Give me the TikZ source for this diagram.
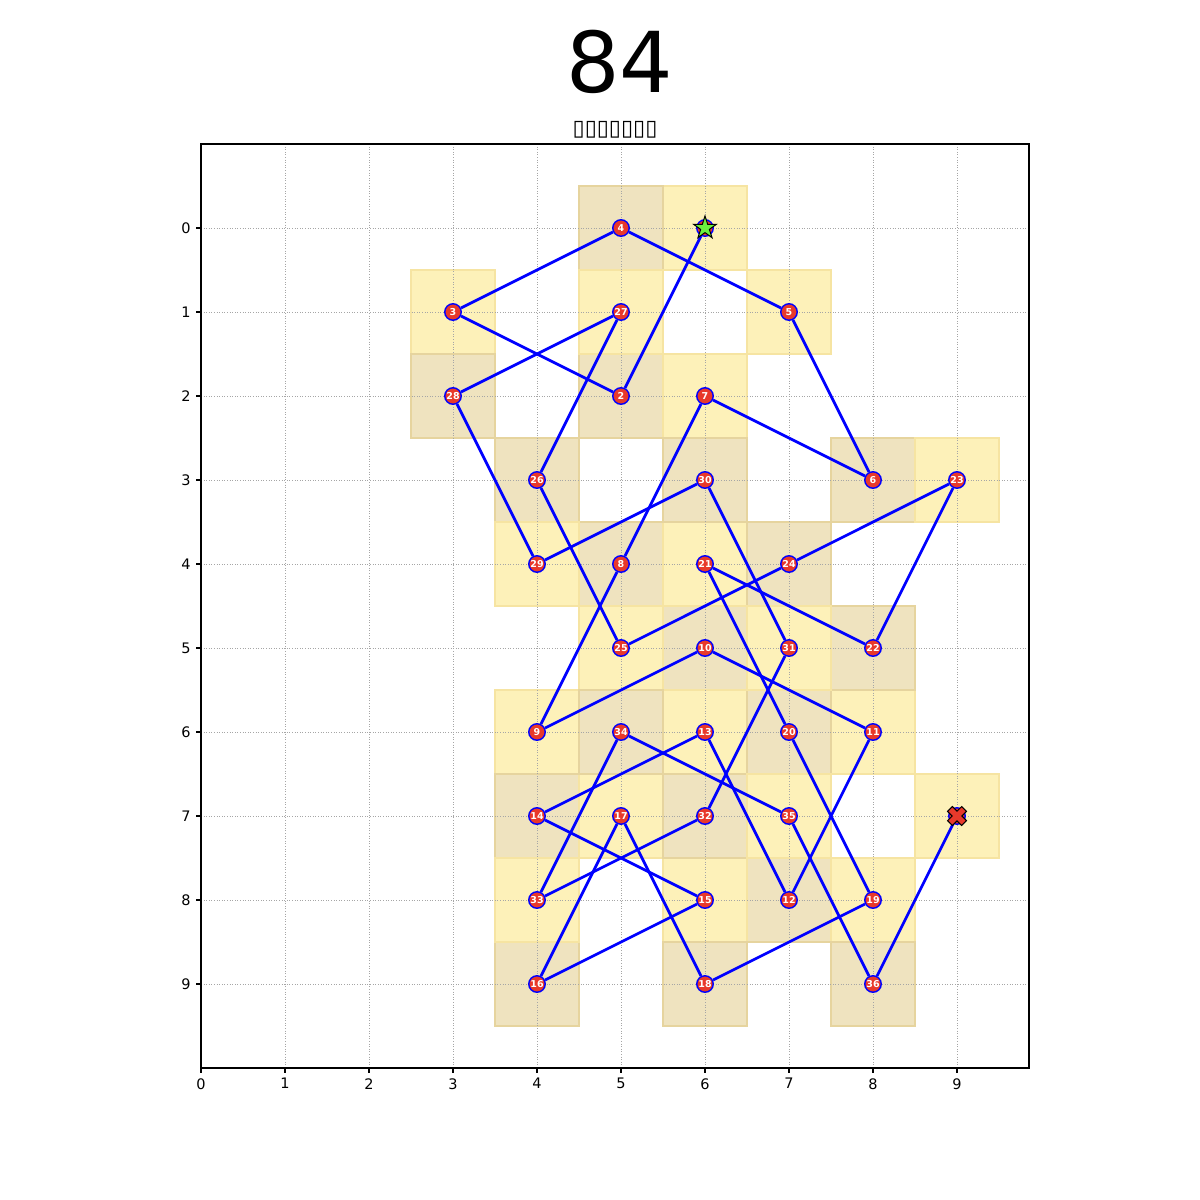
\documentclass[tikz,border=0pt]{standalone}
\usepackage{fontspec}
\setmainfont{DejaVu Sans}
\usetikzlibrary{shapes.geometric}
\pgfdeclarelayer{cells}
\pgfdeclarelayer{links}
\pgfsetlayers{cells,links,main}
\definecolor{cellgold}{HTML}{FDF1B9}
\definecolor{cellgoldedge}{HTML}{F6E4A2}
\definecolor{celltan}{HTML}{EFE3BF}
\definecolor{celltanedge}{HTML}{E6D49E}
\definecolor{tourblue}{HTML}{0000FF}
\definecolor{markred}{HTML}{E8392B}
\definecolor{markgreen}{HTML}{6CF03F}
\tikzset{
	goldcell/.style={fill=cellgold,draw=cellgoldedge,line width=1.2pt},
	tancell/.style={fill=celltan,draw=celltanedge,line width=1.2pt},
	gridline/.style={black!35,line width=0.7pt,dash pattern=on 1pt off 1.6pt},
	axisline/.style={black,line width=1.1pt},
	ticklabel/.style={inner sep=0pt,font=\fontsize{14.5}{16}\selectfont},
	link/.style={tourblue,line width=2.7pt},
	tour/.style={circle,fill=markred,draw=tourblue,line width=1.4pt,minimum size=16.5pt,inner sep=0pt,text=white,font=\fontsize{9.5}{10}\selectfont\bfseries},
	startmark/.style={star,star points=5,star point ratio=2.618,minimum size=24pt,inner sep=0pt,fill=markgreen,draw=black,line width=1pt},
	endmark/.style={fill=markred,draw=black,line width=1pt,line join=miter}
}

\begin{document}
\begin{tikzpicture}[x=84pt,y=-84pt]
	\useasboundingbox (-2.392857,-2.714286) rectangle (11.892857,11.571429);
	
	% title and subtitle
	\node (title) at (4.988,-1.976) {\fontsize{84}{90}\selectfont 84};
	\node (subtitle) at (4.929,-1.167) {\fontsize{22}{24}\selectfont ▯▯▯▯▯▯▯};
	
	% tour squares
	\begin{pgfonlayer}{cells}
		\foreach \x/\y in {6/0,5/2,3/1,5/0,7/1,8/3,6/2,5/4,4/6,6/5,8/6,7/8,6/6,4/7,6/8,4/9,5/7,6/9,8/8,7/6,6/4,8/5,9/3,7/4,5/5,4/3,5/1,3/2,4/4,6/3,7/5,6/7,4/8,5/6,7/7,8/9,9/7} {
			\pgfmathtruncatemacro\odd{mod(\x+\y,2)}
			\ifnum\odd=1
				\draw[tancell] (\x-0.5,\y-0.5) rectangle (\x+0.5,\y+0.5);
			\else
				\draw[goldcell] (\x-0.5,\y-0.5) rectangle (\x+0.5,\y+0.5);
			\fi
		}
		\foreach \k in {0,...,9} {
			\draw[gridline] (\k,-1) -- (\k,10);
			\draw[gridline] (0,\k) -- (9.857,\k);
		}
	\end{pgfonlayer}
	
	% axes
	\draw[axisline] (0,-1) rectangle (9.857,10);
	\foreach \k in {0,...,9} {
		\draw[axisline] (\k,10) -- ++(0,0.058) node[ticklabel,anchor=north,yshift=-4.9pt] {\k};
		\draw[axisline] (0,\k) -- ++(-0.058,0) node[ticklabel,anchor=east,xshift=-4.9pt] {\k};
	}
	
	% knight's tour
	\node[tour] (p1) at (6,0) {};
	\foreach \n/\x/\y in {2/5/2,3/3/1,4/5/0,5/7/1,6/8/3,7/6/2,8/5/4,9/4/6,10/6/5,11/8/6,12/7/8,13/6/6,14/4/7,15/6/8,16/4/9,17/5/7,18/6/9,19/8/8,20/7/6,21/6/4,22/8/5,23/9/3,24/7/4,25/5/5,26/4/3,27/5/1,28/3/2,29/4/4,30/6/3,31/7/5,32/6/7,33/4/8,34/5/6,35/7/7,36/8/9}
		\node[tour] (p\n) at (\x,\y) {\n};
	\node[tour] (p37) at (9,7) {};
	
	\begin{pgfonlayer}{links}
		\foreach \n [evaluate=\n as \m using int(\n+1)] in {1,...,36}
			\draw[link] (p\n) -- (p\m);
	\end{pgfonlayer}
	
	\node[startmark] (start) at (p1) {};
	\draw[endmark,shift={(p37)},rotate=45] (-10pt,-3.4pt) -- (-3.4pt,-3.4pt) -- (-3.4pt,-10pt) -- (3.4pt,-10pt) -- (3.4pt,-3.4pt) -- (10pt,-3.4pt) -- (10pt,3.4pt) -- (3.4pt,3.4pt) -- (3.4pt,10pt) -- (-3.4pt,10pt) -- (-3.4pt,3.4pt) -- (-10pt,3.4pt) -- cycle;
	
\end{tikzpicture}
\end{document}
